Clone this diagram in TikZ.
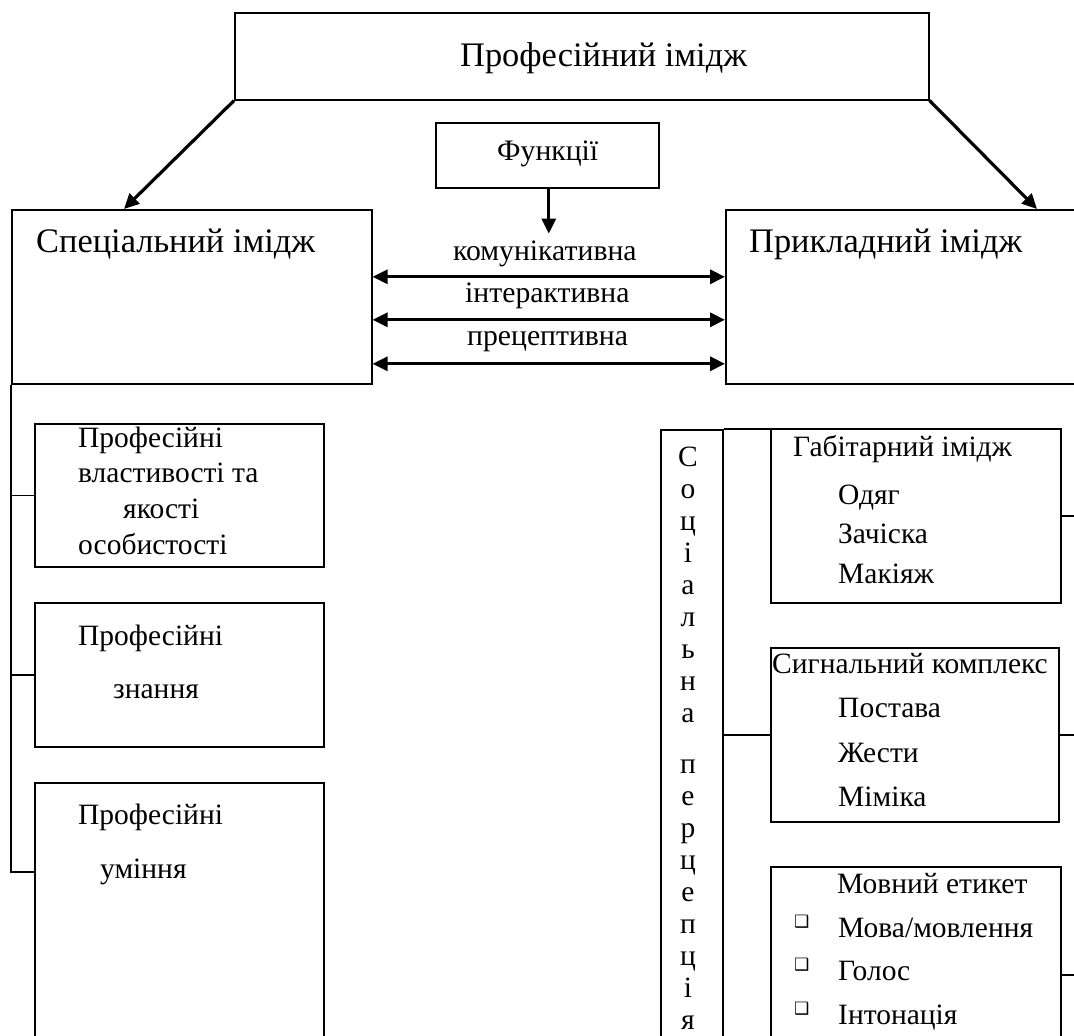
\documentclass[tikz,border=0pt]{standalone}
\usepackage{fontspec}
\setmainfont{Liberation Serif}
\newfontfamily\dejavu{DejaVu Sans}
\usetikzlibrary{arrows.meta}
\begin{document}
\begin{tikzpicture}[x=1pt,y=-1pt,
  box/.style={draw,line width=1.6pt,inner sep=0pt,anchor=north west},
  txt/.style={anchor=base west,inner sep=0pt,font=\fontsize{29.5}{34}\selectfont},
  big/.style={anchor=base west,inner sep=0pt,font=\fontsize{34.4}{40}\selectfont},
  mid/.style={anchor=base west,inner sep=0pt,font=\fontsize{29.7}{34}\selectfont},
  let/.style={anchor=base,inner sep=0pt,font=\fontsize{29.5}{34}\selectfont},
  bul/.style={anchor=base west,inner sep=0pt,font=\dejavu\fontsize{17}{17}\selectfont},
  arr/.style={line width=3.2pt,-{Triangle[length=15pt,width=14pt]}},
  dbl/.style={line width=3.2pt,{Triangle[length=15pt,width=14pt]}-{Triangle[length=15pt,width=14pt]}},
  ln/.style={line width=1.6pt}]
\useasboundingbox (0,0) rectangle (1074,1036);
\clip (0,0) rectangle (1074,1036);
% boxes
\node[box,minimum width=694pt,minimum height=87pt] (top) at (234,12) {};
\node[box,minimum width=223pt,minimum height=65pt] (fun) at (435,122) {};
\node[box,minimum width=360pt,minimum height=174pt] (spec) at (11,209) {};
\node[box,minimum width=400pt,minimum height=174pt] (prk) at (725,209) {};
\node[box,minimum width=289pt,minimum height=143pt] (L1) at (34,423) {};
\node[box,minimum width=289pt,minimum height=144pt] (L2) at (34,602) {};
\node[box,minimum width=289pt,minimum height=300pt] (L3) at (34,782) {};
\node[box,minimum width=62pt,minimum height=700pt] (col) at (660,429) {};
\node[box,minimum width=290pt,minimum height=174pt] (R1) at (770,428) {};
\node[box,minimum width=288pt,minimum height=174pt] (R2) at (770,647) {};
\node[box,minimum width=290pt,minimum height=260pt] (R3) at (770,866) {};
% connectors
\draw[arr] (top.south west) -- ([xshift=113pt]spec.north west);
\draw[arr] (top.south east) -- ([xshift=312pt]prk.north west);
\draw[arr] ([xshift=1.5pt]fun.south) -- ++(0,45);
\draw[dbl] ([yshift=20pt]spec.east) -- ([yshift=20pt]prk.west);
\draw[dbl] ([yshift=-23pt]spec.east) -- ([yshift=-23pt]prk.west);
\draw[dbl] ([yshift=-67pt]spec.east) -- ([yshift=-67pt]prk.west);
\draw[ln] (spec.south west) |- ([yshift=-90pt]L3.north west);
\draw[ln] (spec.south west |- L1.west) -- (L1.west);
\draw[ln] (spec.south west |- L2.west) -- (L2.west);
\draw[ln] (col.north east) -- (R1.north west |- col.north east);
\draw[ln] (col.east |- R2.west) -- (R2.west);
\draw[ln] (R1.east) -- ++(30,0);
\draw[ln] (R2.east) -- ++(30,0);
\draw[ln] ([yshift=-109pt]R3.north east) -- ++(30,0);
% texts
\node[big] (ttop) at (460,66) {Професійний імідж};
\node[mid] (tfun) at (497,160) {Функції};
\node[big] (tspec) at (36,252) {Спеціальний імідж};
\node[big] (tprk) at (749,252) {Прикладний імідж};
\node[mid] (f1) at (453,260) {комунікативна};
\node[mid] (f2) at (465,302) {інтерактивна};
\node[mid] (f3) at (467,345) {прецептивна};
\node[txt] (a1) at (78,447) {Професійні};
\node[txt] (a2) at (78,482) {властивості та};
\node[txt] (a3) at (123,518) {якості};
\node[txt] (a4) at (78,554) {особистості};
\node[txt] (b1) at (78,645) {Професійні};
\node[txt] (b2) at (113,698) {знання};
\node[txt] (c1) at (78,824) {Професійні};
\node[txt] (c2) at (100,878) {уміння};
\node[txt] (r1) at (793,456) {Габітарний імідж};
\node[txt] (r2) at (838,504) {Одяг};
\node[txt] (r3) at (838,543) {Зачіска};
\node[txt] (r4) at (838,583) {Макіяж};
\node[txt] (s1) at (772,673) {Сигнальний комплекс};
\node[txt] (s2) at (838,717) {Постава};
\node[txt] (s3) at (838,762) {Жести};
\node[txt] (s4) at (838,806) {Міміка};
\node[txt] (m1) at (837,893) {Мовний етикет};
\node[txt] (m2) at (838,937) {Мова/мовлення};
\node[txt] (m3) at (838,980) {Голос};
\node[txt] (m4) at (838,1024) {Інтонація};
\node[bul] (k2) at (794,927) {❑};
\node[bul] (k3) at (794,970) {❑};
\node[bul] (k4) at (794,1014) {❑};
% vertical letters
\foreach \ch [count=\i from 0] in {С,о,ц,і,а,л,ь,н,а}
  \node[let] (v\i) at (688,466+32.1*\i) {\ch};
\foreach \ch [count=\i from 0] in {п,е,р,ц,е,п,ц,і,я}
  \node[let] (w\i) at (688,773+32*\i) {\ch};
\end{tikzpicture}
\end{document}
